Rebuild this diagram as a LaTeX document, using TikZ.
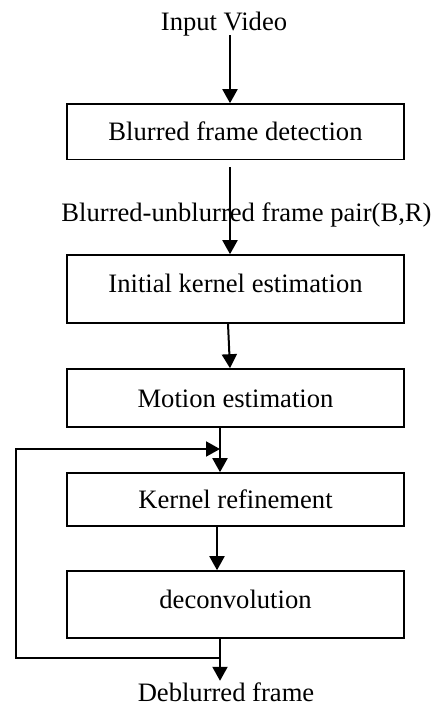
\documentclass[tikz,border=0pt]{standalone}
\usepackage{fontspec}
\setmainfont{Liberation Serif}
\usetikzlibrary{arrows.meta}
\begin{document}
\begin{tikzpicture}[x=1pt,y=-1pt,
  font=\fontsize{26.6}{32}\selectfont,
  stepbox/.style={draw,line width=1.6pt,minimum width=337pt,inner sep=0pt,text height=18pt,text depth=0pt},
  plain/.style={inner sep=0pt,text height=18pt,text depth=0pt},
  arr/.style={line width=2pt,-{Triangle[width=15pt,length=14pt]}},
  line/.style={line width=2pt}]
\useasboundingbox (0,0) rectangle (438,707);
\node[plain] (in) at (224,21) {Input Video};
\node[stepbox,minimum height=55.5pt] (b1) at (235.5,131.75) {Blurred frame detection};
\node[plain] (lab) at (246.5,212) {Blurred-unblurred frame pair(B,R)};
\node[stepbox,minimum height=68pt,text depth=11.4pt] (b2) at (235.5,289) {Initial kernel estimation};
\node[stepbox,minimum height=58pt] (b3) at (235.5,398) {Motion estimation};
\node[stepbox,minimum height=53pt] (b4) at (235.5,499.5) {Kernel refinement};
\node[stepbox,minimum height=67pt,text depth=10pt] (b5) at (235.5,604.5) {deconvolution};
\node[plain] (out) at (226,692.5) {Deblurred frame};
\coordinate (split) at (220,658);
\coordinate (fbbot) at (16,658);
\coordinate (fbtop) at (16,449);
\coordinate (join) at (220,449);
\draw[arr] ([xshift=6pt,yshift=-5pt]in.south) -- ([xshift=-5.5pt]b1.north);
\draw[arr] ([xshift=-5.5pt,yshift=-7pt]b1.south) -- ([xshift=-5.5pt]b2.north);
\draw[arr] ([xshift=-7.5pt]b2.south) -- ([xshift=-5.5pt]b3.north);
\draw[arr] ([xshift=-15.5pt]b3.south) -- ([xshift=-15.5pt]b4.north);
\draw[arr] ([xshift=-18.5pt]b4.south) -- ([xshift=-18.5pt]b5.north);
\draw[arr] ([xshift=-15.5pt]b5.south) -- ([xshift=-6pt,yshift=2.5pt]out.north);
\draw[arr] (split) -- (fbbot) -- (fbtop) -- (join);
\end{tikzpicture}
\end{document}
